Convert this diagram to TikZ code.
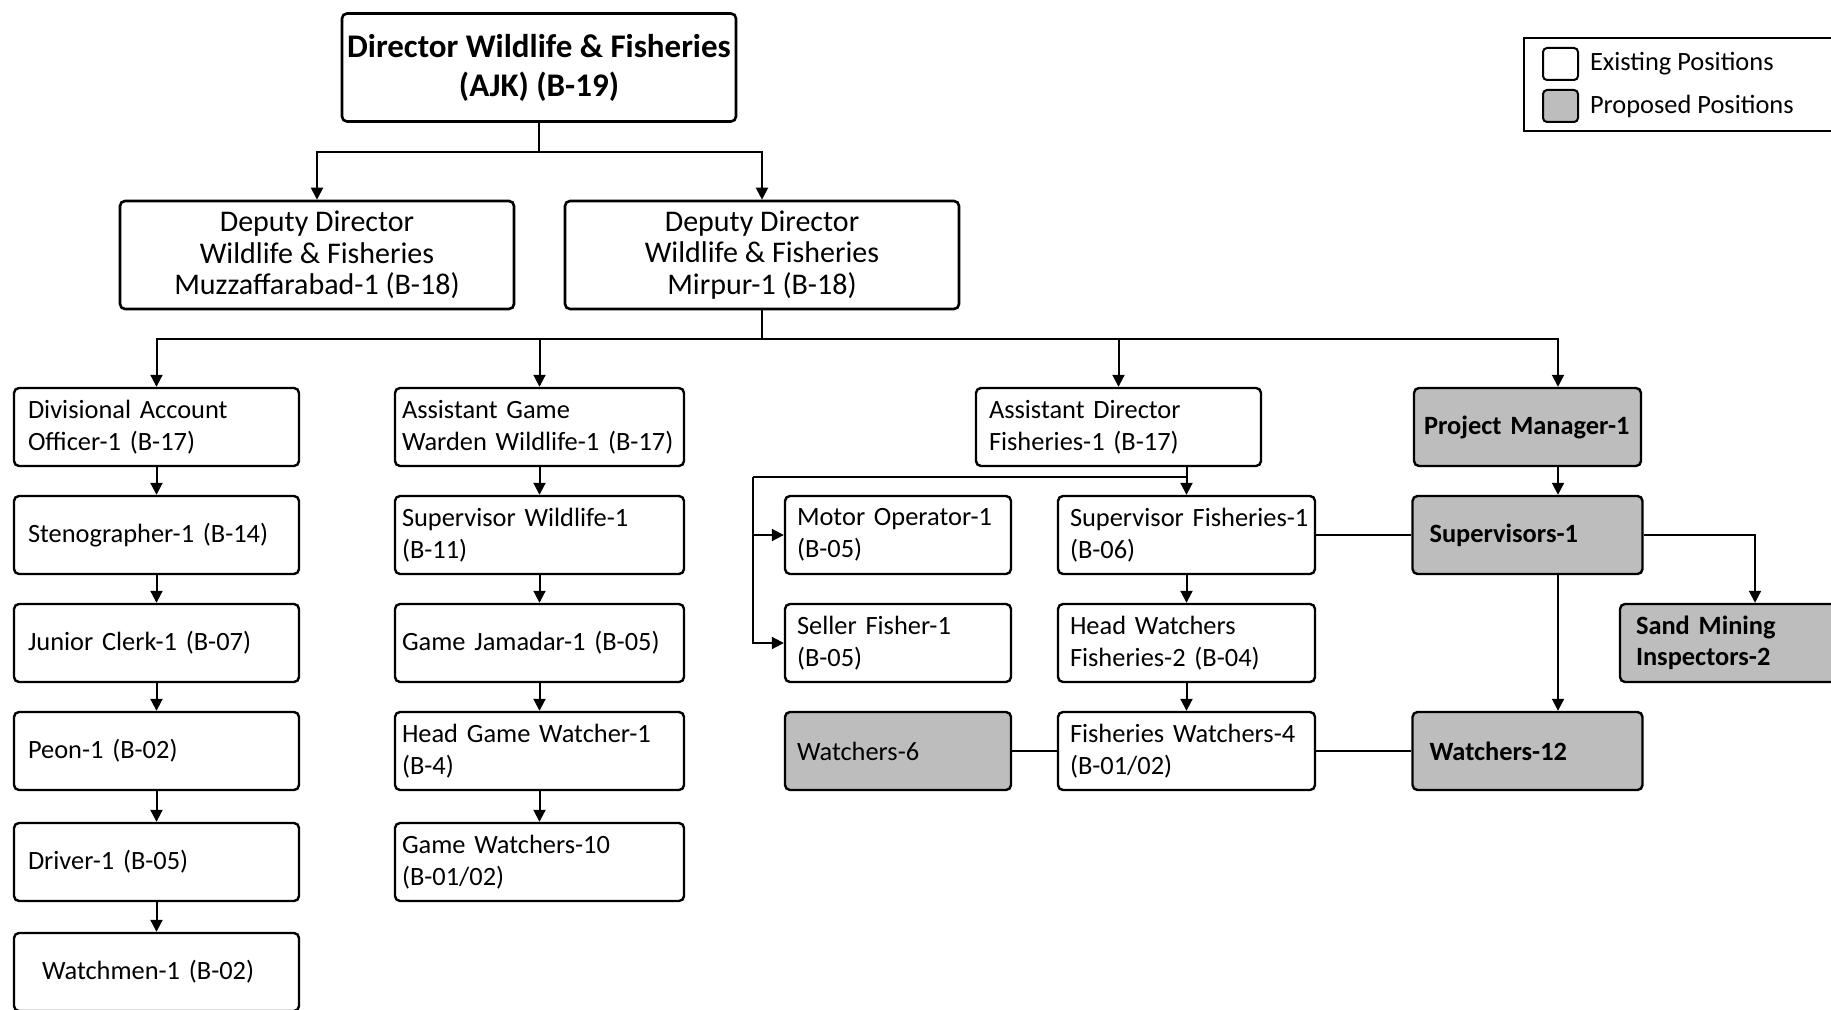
\documentclass[tikz,border=0pt]{standalone}
\usepackage{fontspec}
\setmainfont{Carlito}
\usetikzlibrary{arrows.meta}

\begin{document}
\begin{tikzpicture}[x=0.5pt,y=-0.5pt,line width=1pt,
  post/.style={draw,line width=1.2pt,rounded corners=2.5pt,align=left,
    font=\fontsize{13.2}{15.8}\selectfont,minimum height=39pt,inner ysep=2pt},
  colA/.style={post,inner xsep=7pt,text width=128.5pt},
  colB/.style={post,inner xsep=3.5pt,text width=137.5pt},
  colC/.style={post,inner xsep=6pt,text width=101pt},
  colD/.style={post,inner xsep=6pt,text width=116.5pt},
  colE/.style={post,fill=black!26,inner xsep=5pt,text width=103.5pt,
    font=\fontsize{13.2}{15.8}\selectfont\bfseries},
  head/.style={draw,line width=1.3pt,rounded corners=2.5pt,align=center,
    minimum width=197pt,minimum height=54pt,inner sep=2pt,
    font=\fontsize{15}{15.8}\selectfont},
  key/.style={draw,line width=1pt,rounded corners=2pt,minimum width=17.5pt,
    minimum height=16pt,inner sep=0pt},
  arr/.style={-{Triangle[length=6pt,width=6pt]}}]
\useasboundingbox (0,0) rectangle (1831,1010);

% director and deputies
\node[head,font=\fontsize{16.5}{19.5}\selectfont\bfseries] (dir) at (539,67.5)
  {Director Wildlife \& Fisheries\\(AJK) (B-19)};
\node[head] (dep1) at (317,255) {Deputy Director\\Wildlife \& Fisheries\\Muzzaffarabad-1 (B-18)};
\node[head] (dep2) at (762,255) {Deputy Director\\Wildlife \& Fisheries\\Mirpur-1 (B-18)};

% office column
\node[colA] (dao) at (156.5,427) {Divisional Account\\Officer-1 (B-17)};
\node[colA] (steno) at (156.5,535) {Stenographer-1 (B-14)};
\node[colA] (clerk) at (156.5,643) {Junior Clerk-1 (B-07)};
\node[colA] (peon) at (156.5,751) {Peon-1 (B-02)};
\node[colA] (driver) at (156.5,862) {Driver-1 (B-05)};
\node[colA] (watchmen) at (156.5,972) {\hspace*{7pt}Watchmen-1 (B-02)};

% wildlife column
\node[colB] (agw) at (539.5,427) {Assistant Game\\\mbox{Warden Wildlife-1 (B-17)}};
\node[colB] (supw) at (539.5,535) {Supervisor Wildlife-1\\(B-11)};
\node[colB] (jamadar) at (539.5,643) {Game Jamadar-1 (B-05)};
\node[colB] (hgw) at (539.5,751) {Head Game Watcher-1\\(B-4)};
\node[colB] (gw) at (539.5,862) {Game Watchers-10\\(B-01/02)};

% fisheries
\node[post,inner xsep=6.5pt,text width=129.5pt] (adf) at (1118.5,427) {Assistant Director\\Fisheries-1 (B-17)};
\node[colC] (motor) at (898,535) {Motor Operator-1\\(B-05)};
\node[colC] (seller) at (898,643) {Seller Fisher-1\\(B-05)};
\node[colC,fill=black!26] (fw6) at (898,751) {Watchers-6};
\node[colD] (supf) at (1186.5,535) {\mbox{Supervisor Fisheries-1}\\(B-06)};
\node[colD] (headw) at (1186.5,643) {Head Watchers\\Fisheries-2 (B-04)};
\node[colD] (fw4) at (1186.5,751) {Fisheries Watchers-4\\(B-01/02)};

% proposed posts
\node[colE] (pm) at (1527.5,427) {\mbox{Project Manager-1}};
\node[colE,inner xsep=8.5pt,text width=98pt] (sups) at (1527.5,535) {Supervisors-1};
\node[colE,inner xsep=8.5pt,text width=98pt] (fw12) at (1527.5,751) {Watchers-12};
\node[colE,inner xsep=8pt,text width=99pt] (sand) at (1735,643) {Sand Mining\\Inspectors-2};

% legend
\draw[line width=1.2pt] (1524,38) rectangle (1870,131);
\node[key] (kold) at (1560.5,64) {};
\node[key,fill=black!26] (knew) at (1560.5,106) {};
\node[anchor=west,inner xsep=2pt,font=\fontsize{13.2}{15.8}\selectfont] (told) at ([xshift=3pt]kold.east) {Existing Positions};
\node[anchor=west,inner xsep=2pt,font=\fontsize{13.2}{15.8}\selectfont] (tnew) at ([xshift=3pt]knew.east) {Proposed Positions};

% connectors
\coordinate (j1) at (539,152);
\coordinate (j2) at (762,339);
\coordinate (pcol) at (1558,0);
\coordinate (scol) at (1755,0);
\coordinate (fork) at (1186.5,477);
\coordinate (bend) at (753,477);

\draw (dir) -- (j1);
\draw[arr] (j1) -| (dep1.north);
\draw[arr] (j1) -| (dep2.north);
\draw (dep2) -- (j2);
\draw[arr] (j2) -| (dao.north);
\draw[arr] (j2) -| (agw.north);
\draw[arr] (j2) -| (adf.north);
\draw[arr] (j2) -| (pm.north -| pcol);

\foreach \a/\b in {dao/steno,steno/clerk,clerk/peon,peon/driver,driver/watchmen,
  agw/supw,supw/jamadar,jamadar/hgw,hgw/gw,supf/headw,headw/fw4}
  \draw[arr] (\a) -- (\b);

\draw[arr] (adf.south -| supf.north) -- (supf.north);
\draw (fork) -- (bend);
\draw[arr] (bend) |- (motor.west);
\draw[arr] (bend) |- (seller.west);

\draw[arr] (pm.south -| pcol) -- (sups.north -| pcol);
\draw[arr] (sups.south -| pcol) -- (fw12.north -| pcol);
\draw[arr] (sups.east) -| (sand.north -| scol);
\draw (supf) -- (sups);
\draw (fw6) -- (fw4);
\draw (fw4) -- (fw12);

\end{tikzpicture}
\end{document}
